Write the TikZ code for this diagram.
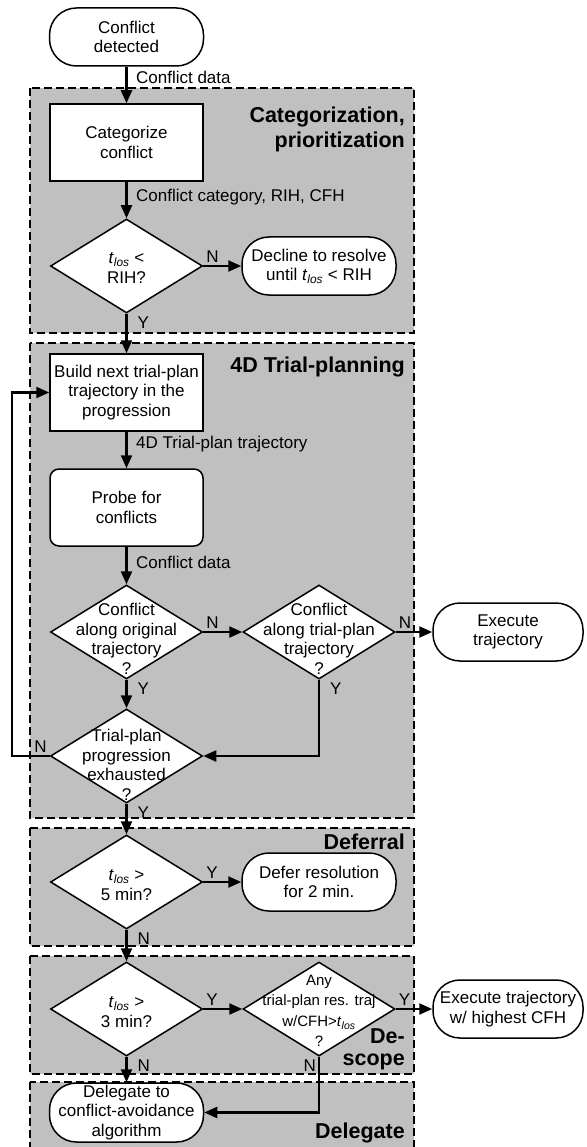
\documentclass[tikz,border=0pt]{standalone}
\usepackage{fontspec}
\setmainfont{Liberation Sans}
\usetikzlibrary{shapes.geometric, arrows.meta, calc}
\definecolor{panelgray}{RGB}{192,192,192}
\newcommand{\tlos}{\textit{t}\textsubscript{\textit{los}}}
\tikzset{
    panel/.style={draw=black, fill=panelgray, line width=2.8pt, dash pattern=on 8pt off 4pt},
    panelname/.style={font=\fontsize{21.5}{25}\selectfont\bfseries, align=right, anchor=east, inner sep=0pt},
    proc/.style={draw=black, fill=white, line width=1.5pt, minimum width=153pt, minimum height=77pt, align=center, inner sep=0pt},
    rproc/.style={proc, rounded corners=9pt},
    term/.style={draw=black, fill=white, line width=1.5pt, minimum width=154pt, minimum height=58pt, rounded corners=27pt, align=center, inner sep=0pt},
    decision/.style={diamond, draw=black, fill=white, line width=1.5pt, minimum width=152pt, minimum height=94pt, inner sep=0pt},
    dtext/.style={align=center, inner sep=0pt},
    flow/.style={line width=2.3pt, -{Triangle[length=13pt, width=11pt]}},
    dlabel/.style={anchor=west, inner sep=0pt, xshift=8.5pt},
    yn/.style={inner sep=2pt}
}

\begin{document}
\begin{tikzpicture}[x=1pt, y=-1pt, font=\fontsize{17}{19.5}\selectfont]
    \useasboundingbox (0,0) rectangle (586,1147);
    \clip (0,0) rectangle (586,1147);
    % grey stages
    \draw[panel] (30,88) rectangle (414,333);
    \draw[panel] (30,343) rectangle (414,818);
    \draw[panel] (30,828) rectangle (414,946);
    \draw[panel] (30,956) rectangle (414,1074);
    \draw[panel] (30,1082) rectangle (414,1175);
    \node[panelname] (pcat) at (405,129.5) {Categorization,\\prioritization};
    \node[panelname] (ptrial) at (405,367) {4D Trial-planning};
    \node[panelname] (pdefer) at (405,842) {Deferral};
    \node[panelname, font=\fontsize{21.5}{22}\selectfont\bfseries] (pscope) at (405,1049) {De-\\scope};
    \node[panelname] (pdeleg) at (405,1133) {Delegate};

    % boxes
    \node[term] (start) at (126.5,37) {Conflict\\detected};
    \node[proc] (cat) at (126.5,142.5) {Categorize\\conflict};
    \node[decision] (d1) at (126.5,266) {};
    \node[dtext] (d1t) at (126.5,268) {\tlos\ <\\RIH?};
    \node[term] (decline) at (319,266) {Decline to resolve\\until \tlos\ < RIH};
    \node[proc] (build) at (126.5,392.5) {Build next trial-plan\\trajectory in the\\progression};
    \node[rproc] (probe) at (126.5,507.5) {Probe for\\conflicts};
    \node[decision] (d2) at (126.5,632) {};
    \node[dtext] (d2t) at (126.5,639) {Conflict\\along original\\trajectory\\?};
    \node[decision] (d3) at (319,632) {};
    \node[dtext] (d3t) at (319,639) {Conflict\\along trial-plan\\trajectory\\?};
    \node[term, minimum width=150pt] (exec) at (508,632) {Execute\\trajectory};
    \node[decision] (d4) at (126.5,756) {};
    \node[dtext] (d4t) at (126.5,765) {Trial-plan\\progression\\exhausted\\?};
    \node[decision] (d5) at (126.5,882) {};
    \node[dtext] (d5t) at (126.5,885) {\tlos\ >\\5 min?};
    \node[term] (defer) at (319,882) {Defer resolution\\for 2 min.};
    \node[decision] (d6) at (126.5,1009) {};
    \node[dtext] (d6t) at (126.5,1012) {\tlos\ >\\3 min?};
    \node[decision] (d7) at (319,1009) {};
    \node[dtext, font=\fontsize{15}{20.5}\selectfont] (d7t) at (319,1011) {Any\\trial-plan res. traj\\w/CFH>\tlos\\?};
    \node[term, minimum width=150pt] (exec2) at (508,1009) {Execute trajectory\\w/ highest CFH};
    \node[term, minimum height=59pt] (deleg) at (126.5,1112.5) {Delegate to\\conflict-avoidance\\algorithm};
    \coordinate (loop) at (12,756);

    % connectors
    \draw[flow] (start) -- node[dlabel, pos=0.3] {Conflict data} (cat);
    \draw[flow] (cat) -- node[dlabel, pos=0.42] {Conflict category, RIH, CFH} (d1);
    \draw[flow] (d1.east) -- node[yn, pos=0, anchor=south west] {N} (decline.west);
    \draw[flow] (d1.south) -- node[yn, pos=0, anchor=north west, xshift=8pt] {Y} (build.north);
    \draw[flow] (build) -- node[dlabel, pos=0.34] {4D Trial-plan trajectory} (probe);
    \draw[flow] (probe) -- node[dlabel, pos=0.41] {Conflict data} (d2);
    \draw[flow] (d2.east) -- node[yn, pos=0, anchor=south west] {N} (d3.west);
    \draw[flow] (d3.east) -- node[yn, pos=0, anchor=south west] {N} (exec.west);
    \draw[flow] (d2.south) -- node[yn, pos=0, anchor=north west, xshift=8pt] {Y} (d4.north);
    \draw[flow] (d3.south) |- node[yn, pos=0, anchor=north west, xshift=8pt] {Y} (d4.east);
    \draw[flow] (d4.west) -- node[yn, pos=0, anchor=south east] {N} (loop) |- (build.west);
    \draw[flow] (d4.south) -- node[yn, pos=0, anchor=north west, xshift=8pt] {Y} (d5.north);
    \draw[flow] (d5.east) -- node[yn, pos=0, anchor=south west] {Y} (defer.west);
    \draw[flow] (d5.south) -- node[yn, pos=0, anchor=north west, xshift=8pt] {N} (d6.north);
    \draw[flow] (d6.east) -- node[yn, pos=0, anchor=south west] {Y} (d7.west);
    \draw[flow] (d7.east) -- node[yn, pos=0, anchor=south west] {Y} (exec2.west);
    \draw[flow] (d6.south) -- node[yn, pos=0, anchor=north west, xshift=8pt] {N} (deleg.north);
    \draw[flow] (d7.south) |- node[yn, pos=0, anchor=north east] {N} (deleg.east);
\end{tikzpicture}
\end{document}
